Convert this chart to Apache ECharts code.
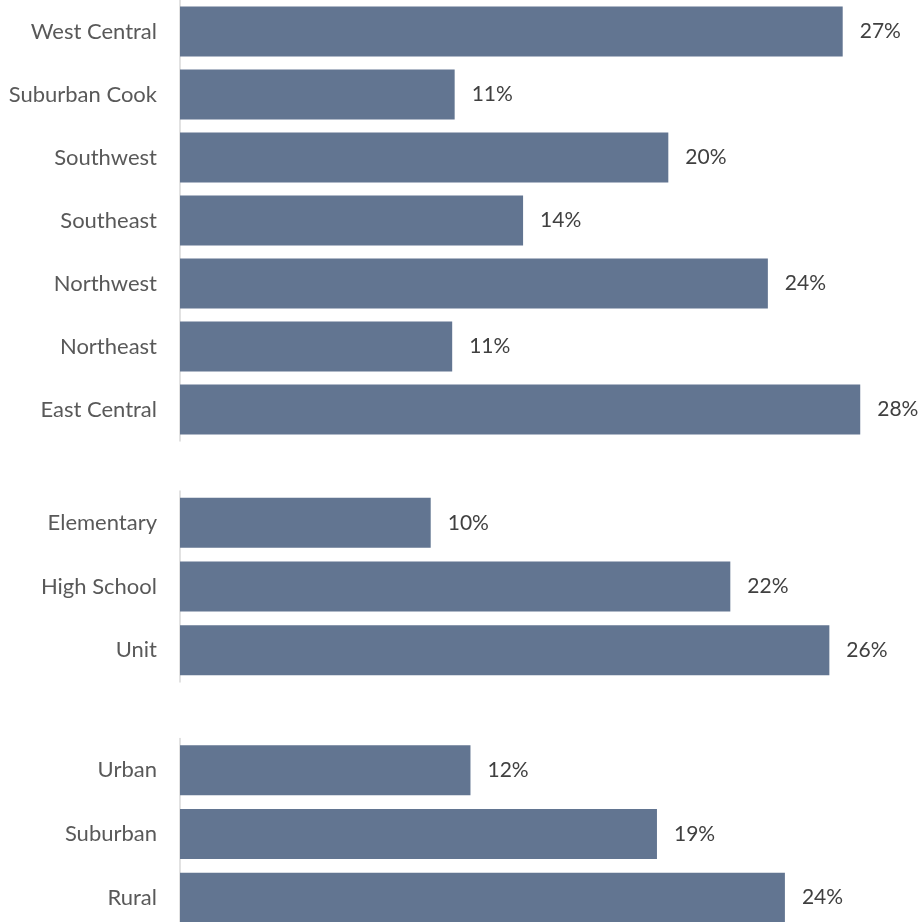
<!DOCTYPE html>
<html>
<head>
<meta charset="utf-8">
<script src="https://cdn.jsdelivr.net/npm/echarts@6/dist/echarts.min.js"></script>
<style>
html,body{margin:0;padding:0;background:#fff;overflow:hidden;}
#chart{width:921px;height:960px;}
</style>
</head>
<body>
<div id="chart"></div>
<script>
// Group 1: regions
const regionCategories = ["West Central", "Suburban Cook", "Southwest", "Southeast", "Northwest", "Northeast", "East Central"];
const regionValues = [26.83, 11.12, 19.77, 13.89, 23.80, 11.02, 27.54];
// Group 2: district type
const typeCategories = ["Elementary", "High School", "Unit"];
const typeValues = [10.15, 22.28, 26.29];
// Group 3: locale
const localeCategories = ["Urban", "Suburban", "Rural"];
const localeValues = [11.76, 19.31, 24.49];

const xMax = 30;
const barColor = "#627591";
const fontFamily = "Lato, 'Open Sans', sans-serif";

const groups = [
  {cats: regionCategories, vals: regionValues, top: 0, height: 441},
  {cats: typeCategories, vals: typeValues, top: 491, height: 191},
  {cats: localeCategories, vals: localeValues, top: 738.5, height: 191}
];

const grid = [], xAxis = [], yAxis = [], series = [];
groups.forEach((g, i) => {
  grid.push({left: 180, width: 741.6, top: g.top, height: g.height, containLabel: false});
  xAxis.push({type: 'value', gridIndex: i, min: 0, max: xMax, show: false});
  yAxis.push({
    type: 'category', gridIndex: i, data: g.cats, inverse: true,
    axisLine: {show: true, lineStyle: {color: '#d9d9d9', width: 1.5}},
    axisTick: {show: false},
    splitLine: {show: false},
    axisLabel: {color: '#595959', fontSize: 22, fontFamily: fontFamily, margin: 23, padding: [3, 0, 0, 0]}
  });
  series.push({
    type: 'bar', xAxisIndex: i, yAxisIndex: i, data: g.vals,
    barWidth: 50,
    itemStyle: {color: barColor},
    label: {
      show: true, position: 'right', distance: 17,
      color: '#404040', fontSize: 21, fontFamily: fontFamily,
      padding: [3, 0, 0, 0],
      formatter: p => Math.round(p.value) + '%'
    },
    silent: true,
    animation: false
  });
});

const chart = echarts.init(document.getElementById('chart'), null, {renderer: 'canvas'});
chart.setOption({animation: false, grid, xAxis, yAxis, series});
</script>
</body>
</html>
